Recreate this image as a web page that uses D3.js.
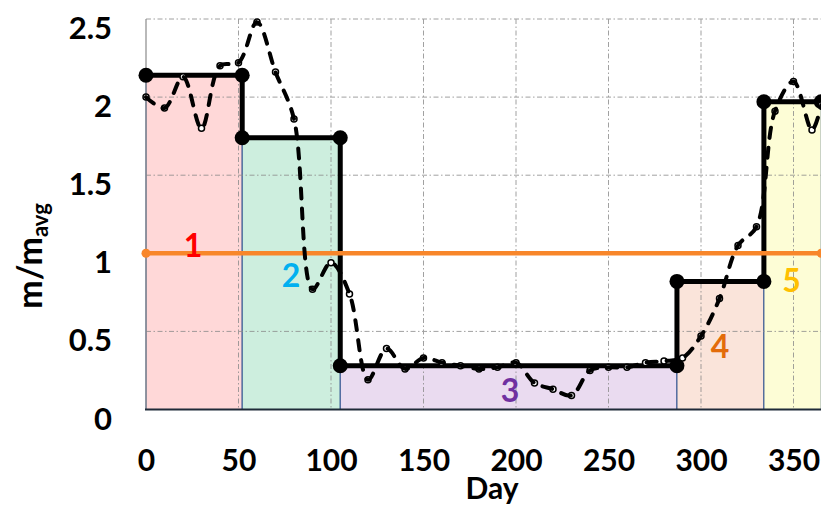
<!DOCTYPE html>
<html>
<head>
<meta charset="utf-8">
<script src="https://cdn.jsdelivr.net/npm/d3@7"></script>
<style>
  html, body { margin: 0; padding: 0; background: #fff; }
  svg { display: block; font-family: Lato, "Open Sans", "DejaVu Sans", sans-serif; }
</style>
</head>
<body>
<svg id="chart" width="821" height="507"></svg>
<script>
// Measured daily mass ratio (sampled every ~10 days)
const days = [0, 10, 20, 30, 40, 50, 60, 70, 80, 90, 100, 110, 120, 130, 140, 150, 160, 170, 180,
              190, 200, 210, 220, 230, 240, 250, 260, 270, 280, 290, 300, 310, 320, 330, 340, 350, 360, 365];
const massRatio = [2.00, 1.93, 2.13, 1.80, 2.20, 2.22, 2.48, 2.16, 1.86, 0.77, 0.94, 0.74, 0.19, 0.39,
                   0.26, 0.33, 0.30, 0.28, 0.26, 0.27, 0.30, 0.17, 0.13, 0.09, 0.25, 0.27, 0.27, 0.30,
                   0.31, 0.33, 0.47, 0.71, 1.05, 1.17, 1.91, 2.10, 1.79, 1.95];

// Piecewise-constant periods
const periodEdges = [0, 52, 105, 287, 334, 365];
const periodLevels = [2.14, 1.74, 0.28, 0.82, 1.97];
const periodNames = ["1", "2", "3", "4", "5"];

// Annual average reference
const averageLevel = 1;

// Axis ticks
const xTicks = [0, 50, 100, 150, 200, 250, 300, 350];
const yTicks = [0, 0.5, 1, 1.5, 2, 2.5];
const yTickLabels = ["0", "0.5", "1", "1.5", "2", "2.5"];

// Styling
const periodFills = ["#ffd8d8", "#cdeede", "#eadbf0", "#fae4da", "#fdfdd6"];
const periodTextColors = ["#ff0000", "#00b0f0", "#7030a0", "#e36c0a", "#ffc000"];
// label anchor (day, value) for each period number
const periodLabelDay = [25.4, 78.4, 196.8, 310.3, 349];
const periodLabelValue = [0.976, 0.784, 0.048, 0.33, 0.752];

const svg = d3.select("#chart");
const W = 821, H = 507;
const plotLeft = 146, plotTop = 19, plotBottom = 409.5;

const x = d3.scaleLinear().domain([0, 365]).range([plotLeft, 821.25]);
const y = d3.scaleLinear().domain([0, 2.5]).range([plotBottom, plotTop]);

svg.append("rect").attr("width", W).attr("height", H).attr("fill", "#fff");

// Period bands
const periods = periodLevels.map((v, i) => ({
  start: periodEdges[i], end: periodEdges[i + 1], level: v, name: periodNames[i], i
}));

svg.append("g").selectAll("rect").data(periods).join("rect")
  .attr("x", d => x(d.start))
  .attr("y", d => y(d.level))
  .attr("width", d => x(d.end) - x(d.start))
  .attr("height", d => y(0) - y(d.level))
  .attr("fill", d => periodFills[d.i])
  .attr("stroke", "#2f528f")
  .attr("stroke-width", 1);

// Grid
const grid = svg.append("g")
  .attr("stroke", "#8a8a8a")
  .attr("stroke-width", 1)
  .attr("stroke-dasharray", "5,2.5,1.5,2.5")
  .attr("opacity", 0.8);
grid.selectAll("line.h").data(yTicks.filter(v => v > 0)).join("line")
  .attr("class", "h")
  .attr("x1", plotLeft).attr("x2", W)
  .attr("y1", d => y(d)).attr("y2", d => y(d));
grid.selectAll("line.v").data(xTicks.filter(v => v > 0)).join("line")
  .attr("class", "v")
  .attr("x1", d => x(d)).attr("x2", d => x(d))
  .attr("y1", plotTop).attr("y2", plotBottom);

// Axis frame lines
svg.append("line").attr("x1", plotLeft).attr("x2", plotLeft).attr("y1", plotTop).attr("y2", plotBottom)
  .attr("stroke", "#8a8a8a").attr("stroke-width", 1.2);
svg.append("line").attr("x1", plotLeft - 1).attr("x2", W).attr("y1", plotBottom).attr("y2", plotBottom)
  .attr("stroke", "#1f2a38").attr("stroke-width", 2);

// Step profile
const stepPts = [];
periods.forEach(p => { stepPts.push([p.start, p.level]); stepPts.push([p.end, p.level]); });
svg.append("path")
  .datum(stepPts)
  .attr("fill", "none")
  .attr("stroke", "#000")
  .attr("stroke-width", 5)
  .attr("stroke-linejoin", "round")
  .attr("d", d3.line().x(d => x(d[0])).y(d => y(d[1])));
svg.append("g").selectAll("circle").data(stepPts).join("circle")
  .attr("cx", d => x(d[0])).attr("cy", d => y(d[1]))
  .attr("r", 7.5).attr("fill", "#000");

// Average line
svg.append("line")
  .attr("x1", x(0)).attr("x2", x(365))
  .attr("y1", y(averageLevel)).attr("y2", y(averageLevel))
  .attr("stroke", "#f8862a").attr("stroke-width", 4.5);
svg.append("g").selectAll("circle").data([0, 365]).join("circle")
  .attr("cx", d => x(d)).attr("cy", y(averageLevel))
  .attr("r", 4.5).attr("fill", "#f8862a");

// Measured series: markers under a dashed smooth line
const series = days.map((d, i) => [d, massRatio[i]]);
svg.append("g").selectAll("circle").data(series).join("circle")
  .attr("cx", d => x(d[0])).attr("cy", d => y(d[1]))
  .attr("r", 3).attr("fill", "#fff").attr("stroke", "#000").attr("stroke-width", 1.5);
svg.append("path")
  .datum(series)
  .attr("fill", "none")
  .attr("stroke", "#000")
  .attr("stroke-width", 4)
  .attr("stroke-dasharray", "10,10")
  .attr("stroke-linecap", "round")
  .attr("d", d3.line().curve(d3.curveCatmullRom.alpha(0.5)).x(d => x(d[0])).y(d => y(d[1])));

// Period numbers
svg.append("g").selectAll("text").data(periods).join("text")
  .attr("x", d => x(periodLabelDay[d.i]))
  .attr("y", d => y(periodLabelValue[d.i]))
  .attr("text-anchor", "middle")
  .attr("font-size", 32).attr("font-weight", 700)
  .attr("fill", d => periodTextColors[d.i])
  .text(d => d.name);

// Axes
const yAxis = svg.append("g")
  .attr("transform", `translate(${plotLeft},0)`)
  .call(d3.axisLeft(y).tickValues(yTicks).tickSize(0).tickPadding(34)
        .tickFormat((d, i) => yTickLabels[i]));
yAxis.select(".domain").remove();
yAxis.selectAll("text")
  .attr("dy", 19.5)
  .attr("font-size", 31).attr("font-weight", 700)
  .attr("font-family", "Lato, sans-serif").attr("fill", "#000");

const xAxis = svg.append("g")
  .attr("transform", `translate(0,${plotBottom})`)
  .call(d3.axisBottom(x).tickValues(xTicks).tickSize(0).tickFormat(d3.format("d")));
xAxis.select(".domain").remove();
xAxis.selectAll("text")
  .attr("y", 61).attr("dy", 0)
  .attr("font-size", 30).attr("font-weight", 700)
  .attr("font-family", "Lato, sans-serif").attr("fill", "#000");

// Axis titles
svg.append("text")
  .attr("x", 492).attr("y", 499)
  .attr("text-anchor", "middle")
  .attr("font-size", 30).attr("font-weight", 700)
  .text("Day");

const yTitle = svg.append("text")
  .attr("transform", "translate(42,256) rotate(-90)")
  .attr("text-anchor", "middle")
  .attr("font-size", 34).attr("font-weight", 700);
yTitle.append("tspan").text("m/m");
yTitle.append("tspan").attr("font-size", 22).attr("dy", 6).text("avg");
</script>
</body>
</html>
